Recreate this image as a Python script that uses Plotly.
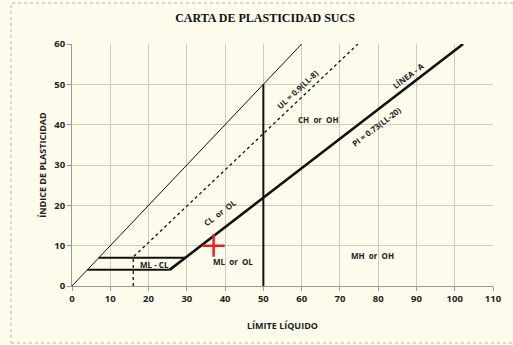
import plotly.graph_objects as go

# Data
equal_ll = [0, 60]
equal_pi = [0, 60]
u_ll = [16, 16, 74.7]
u_pi = [0, 7.2, 60]
a_ll = [25.5, 102.2]
a_pi = [4, 60]
low_ll = [4, 25.5]
low_pi = [4, 4]
up_ll = [7, 29.6]
up_pi = [7, 7]
v_ll = [50, 50]
v_pi = [0, 50]
sample_ll = [37]
sample_pi = [10]
x_ticks = [0, 10, 20, 30, 40, 50, 60, 70, 80, 90, 100, 110]
y_ticks = [0, 10, 20, 30, 40, 50, 60]

labels = [
    ("ML - CL", 21.5, 5.3, 0),
    ("ML  or  OL", 42, 6.0, 0),
    ("CL  or  OL", 38.6, 18.2, -37),
    ("CH  or  OH", 64.5, 41.2, 0),
    ("MH  or  OH", 78.6, 7.5, 0),
    ("UL = 0.9(LL-8)", 58.8, 48.8, -43),
    ("PI = 0.73(LL-20)", 79.5, 39.5, -37),
    ("LÍNEA - A", 87.8, 52.2, -37),
]

fig = go.Figure()
blk = "#111111"
fig.add_trace(go.Scatter(x=equal_ll, y=equal_pi, mode="lines", line=dict(color=blk, width=1)))
fig.add_trace(go.Scatter(x=u_ll, y=u_pi, mode="lines", line=dict(color=blk, width=1.3, dash="dot")))
fig.add_trace(go.Scatter(x=a_ll, y=a_pi, mode="lines", line=dict(color=blk, width=2.6)))
fig.add_trace(go.Scatter(x=low_ll, y=low_pi, mode="lines", line=dict(color=blk, width=2)))
fig.add_trace(go.Scatter(x=up_ll, y=up_pi, mode="lines", line=dict(color=blk, width=2)))
fig.add_trace(go.Scatter(x=v_ll, y=v_pi, mode="lines", line=dict(color=blk, width=2)))
fig.add_trace(go.Scatter(x=sample_ll, y=sample_pi, mode="markers",
                         marker=dict(symbol="cross-thin", size=16, line=dict(color="#e8202a", width=2.5))))

for text, x, y, ang in labels:
    fig.add_annotation(x=x, y=y, text="<b>%s</b>" % text, showarrow=False, textangle=ang,
                       font=dict(family="Open Sans", size=8, color="#222"))

bg = "#fcfbec"
fig.update_layout(
    width=513, height=345,
    margin=dict(l=72, r=20, t=44, b=59, autoexpand=False),
    paper_bgcolor=bg, plot_bgcolor=bg,
    showlegend=False,
    title=dict(text="<b>CARTA DE PLASTICIDAD SUCS</b>", x=265/513, xanchor="center",
               y=1 - 18/345, yanchor="middle",
               font=dict(family="Liberation Serif", size=12, color="#111")),
    font=dict(family="Open Sans", size=9, color="#222"),
)
fig.update_xaxes(range=[0, 110], tickvals=x_ticks, ticktext=["<b>%d</b>" % v for v in x_ticks],
                 automargin=False,
                 showgrid=True, gridcolor="#cfcdbf", gridwidth=1, zeroline=False,
                 showline=True, linecolor="#9a9a90", linewidth=1, ticks="outside", ticklen=4,
                 tickcolor="#9a9a90", tickfont=dict(size=9.5),
                 title=dict(text="<b>LÍMITE LÍQUIDO</b>", font=dict(size=9), standoff=18))
fig.update_yaxes(range=[0, 60], tickvals=y_ticks, ticktext=["<b>%d</b>" % v for v in y_ticks],
                 automargin=False,
                 showgrid=True, gridcolor="#cfcdbf", gridwidth=1, zeroline=False,
                 showline=True, linecolor="#9a9a90", linewidth=1, ticks="outside", ticklen=4,
                 tickcolor="#9a9a90", tickfont=dict(size=9.5),
                 title=dict(text="<b>ÍNDICE DE PLASTICIDAD</b>", font=dict(size=9), standoff=6))
fig.add_shape(type="rect", xref="paper", yref="paper",
              x0=-61/421, x1=(530-72)/421, y0=-(343-286)/242, y1=(286-3)/242,
              line=dict(color="#b8b6a8", width=1, dash="dot"), layer="below")
fig.write_html("out.html", config={"displayModeBar": False},
               post_script="document.body.style.margin='0';")
